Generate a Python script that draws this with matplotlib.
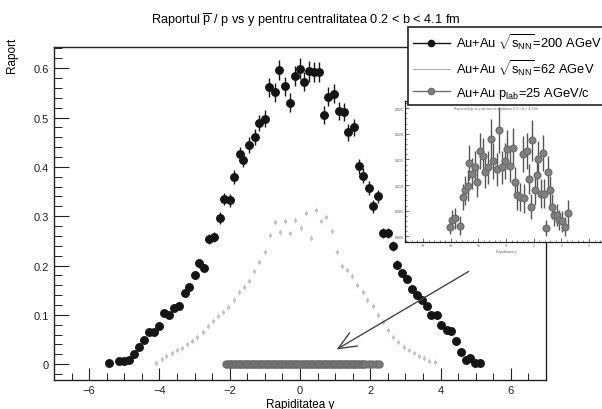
import matplotlib
matplotlib.use("Agg")
import matplotlib.pyplot as plt
from matplotlib.ticker import MultipleLocator
from matplotlib.lines import Line2D

plt.rcParams['font.family'] = ['Liberation Sans', 'DejaVu Sans']
plt.rcParams['mathtext.fontset'] = 'custom'
plt.rcParams['mathtext.rm'] = 'Liberation Sans'
plt.rcParams['mathtext.it'] = 'Liberation Sans'

# ---- data: Au+Au sqrt(sNN)=200 AGeV ----
x200 = [-5.43, -5.14, -5.00, -4.86, -4.72, -4.57, -4.43, -4.29, -4.15, -4.01,
        -3.86, -3.72, -3.58, -3.44, -3.28, -3.15, -2.99, -2.87, -2.72, -2.59,
        -2.44, -2.28, -2.16, -2.00, -1.88, -1.71, -1.61, -1.44, -1.29, -1.16,
        -1.00, -0.87, -0.72, -0.59, -0.44, -0.29, -0.15, -0.01, 0.12, 0.27,
        0.40, 0.54, 0.69, 0.81, 0.98, 1.10, 1.25, 1.37, 1.53, 1.68,
        1.80, 1.95, 2.07, 2.23, 2.35, 2.50, 2.64, 2.77, 2.91, 3.05,
        3.19, 3.33, 3.46, 3.60, 3.74, 3.90, 4.02, 4.19, 4.30, 4.45,
        4.58, 4.72, 4.85, 4.99, 5.13]
y200 = [0.003, 0.007, 0.007, 0.009, 0.020, 0.035, 0.050, 0.065, 0.065, 0.077,
        0.103, 0.099, 0.113, 0.117, 0.145, 0.157, 0.181, 0.205, 0.195, 0.254,
        0.258, 0.296, 0.335, 0.332, 0.379, 0.426, 0.414, 0.445, 0.461, 0.489,
        0.498, 0.561, 0.551, 0.596, 0.563, 0.530, 0.584, 0.599, 0.573, 0.594,
        0.593, 0.593, 0.505, 0.542, 0.548, 0.514, 0.511, 0.470, 0.480, 0.401,
        0.382, 0.358, 0.320, 0.340, 0.266, 0.266, 0.240, 0.202, 0.185, 0.173,
        0.153, 0.140, 0.130, 0.117, 0.099, 0.099, 0.080, 0.070, 0.067, 0.047,
        0.025, 0.009, 0.012, 0.002, 0.002]
e200 = [0.002, 0.002, 0.002, 0.002, 0.003, 0.003, 0.004, 0.004, 0.004, 0.005,
        0.006, 0.006, 0.006, 0.007, 0.007, 0.008, 0.008, 0.009, 0.009, 0.010,
        0.011, 0.012, 0.013, 0.013, 0.014, 0.015, 0.015, 0.016, 0.016, 0.017,
        0.017, 0.019, 0.019, 0.020, 0.020, 0.019, 0.020, 0.021, 0.020, 0.021,
        0.020, 0.020, 0.018, 0.019, 0.019, 0.018, 0.018, 0.017, 0.017, 0.015,
        0.015, 0.014, 0.013, 0.013, 0.011, 0.011, 0.010, 0.009, 0.009, 0.008,
        0.007, 0.007, 0.006, 0.006, 0.005, 0.005, 0.004, 0.004, 0.004, 0.003,
        0.003, 0.002, 0.002, 0.002, 0.002]

# ---- data: Au+Au sqrt(sNN)=62 AGeV ----
x62 = [-4.09, -3.94, -3.80, -3.65, -3.50, -3.36, -3.21, -3.06, -2.92, -2.77,
       -2.62, -2.48, -2.33, -2.18, -2.04, -1.89, -1.74, -1.60, -1.45, -1.30,
       -1.16, -1.01, -0.86, -0.72, -0.57, -0.42, -0.28, -0.13, 0.02, 0.16,
       0.31, 0.46, 0.60, 0.75, 0.90, 1.04, 1.19, 1.34, 1.48, 1.63,
       1.78, 1.92, 2.07, 2.22, 2.36, 2.51, 2.66, 2.80, 2.95, 3.10,
       3.24, 3.39, 3.54, 3.68, 3.83]
y62 = [0.002, 0.010, 0.017, 0.022, 0.028, 0.033, 0.040, 0.047, 0.055, 0.066,
       0.078, 0.088, 0.098, 0.106, 0.116, 0.130, 0.146, 0.156, 0.168, 0.188,
       0.208, 0.228, 0.262, 0.288, 0.268, 0.290, 0.265, 0.293, 0.276, 0.306,
       0.255, 0.312, 0.290, 0.298, 0.270, 0.228, 0.200, 0.190, 0.178, 0.160,
       0.146, 0.130, 0.118, 0.100, 0.085, 0.070, 0.055, 0.045, 0.035, 0.028,
       0.022, 0.017, 0.012, 0.007, 0.004]

# ---- data: Au+Au p_lab=25 AGeV/c, main panel (all ~0 on this scale) ----
x25_main = [-2.10, -2.05, -2.00, -1.95, -1.90, -1.85, -1.80, -1.75, -1.70, -1.65,
            -1.60, -1.55, -1.50, -1.45, -1.40, -1.35, -1.30, -1.25, -1.20, -1.15,
            -1.10, -1.05, -1.00, -0.95, -0.90, -0.85, -0.80, -0.75, -0.70, -0.65,
            -0.60, -0.55, -0.50, -0.45, -0.40, -0.35, -0.30, -0.25, -0.20, -0.15,
            -0.10, -0.05, 0.00, 0.05, 0.10, 0.15, 0.20, 0.25, 0.30, 0.35,
            0.40, 0.45, 0.50, 0.55, 0.60, 0.65, 0.70, 0.75, 0.80, 0.85,
            0.90, 0.95, 1.00, 1.05, 1.10, 1.15, 1.20, 1.25, 1.30, 1.35,
            1.40, 1.45, 1.50, 1.55, 1.60, 1.65, 1.70, 1.75, 1.80, 1.85,
            1.95, 2.05, 2.15, 2.25]
y25_main = [0.0] * len(x25_main)

# ---- data: Au+Au p_lab=25 AGeV/c, inset ----
x25 = [-2.02, -1.96, -1.84, -1.66, -1.57, -1.47, -1.36, -1.33, -1.24, -1.12,
       -1.06, -0.94, -0.84, -0.76, -0.64, -0.55, -0.46, -0.34, -0.24, -0.16,
       -0.04, 0.02, 0.14, 0.24, 0.33, 0.41, 0.51, 0.60, 0.65, 0.75,
       0.84, 0.89, 0.94, 1.05, 1.11, 1.17, 1.25, 1.33, 1.37, 1.43,
       1.53, 1.59, 1.65, 1.73, 1.83, 1.93, 2.01, 2.13, 2.25]
y25 = [0.0019, 0.0032, 0.0035, 0.0021, 0.0077, 0.0090, 0.0099, 0.0144, 0.0122, 0.0135,
       0.0106, 0.0167, 0.0157, 0.0125, 0.0135, 0.0189, 0.0147, 0.0131, 0.0208, 0.0135,
       0.0147, 0.0170, 0.0138, 0.0173, 0.0106, 0.0080, 0.0077, 0.0160, 0.0074, 0.0167,
       0.0112, 0.0058, 0.0187, 0.0090, 0.0119, 0.0151, 0.0083, 0.0163, 0.0083, 0.0016,
       0.0125, 0.0090, 0.0058, 0.0042, 0.0042, 0.0032, 0.0029, 0.0019, 0.0046]
e25 = [0.0015, 0.0020, 0.0020, 0.0018, 0.0025, 0.0028, 0.0030, 0.0035, 0.0030, 0.0032,
       0.0030, 0.0035, 0.0035, 0.0030, 0.0032, 0.0040, 0.0035, 0.0032, 0.0045, 0.0032,
       0.0035, 0.0038, 0.0032, 0.0038, 0.0030, 0.0028, 0.0028, 0.0035, 0.0028, 0.0035,
       0.0030, 0.0025, 0.0040, 0.0028, 0.0032, 0.0035, 0.0028, 0.0035, 0.0028, 0.0015,
       0.0032, 0.0028, 0.0025, 0.0022, 0.0022, 0.0020, 0.0020, 0.0018, 0.0025]

title = r'Raportul $\overline{\mathrm{p}}$ / p vs y pentru centralitatea 0.2 < b < 4.1 fm'
labels = [r'Au+Au $\sqrt{s_{NN}}$=200 AGeV', r'Au+Au $\sqrt{s_{NN}}$=62 AGeV',
          r'Au+Au p$_{lab}$=25 AGeV/c']

W, H = 602, 410
fig = plt.figure(figsize=(W / 100, H / 100), dpi=100)

def fx(px):
    return px / W

def fy(py):
    return 1 - py / H

ax = fig.add_axes([fx(54), fy(381), (546 - 54) / W, (381 - 48) / H])
ax.set_xlim(-7, 7)
ax.set_ylim(-0.032, 0.643)

ax.errorbar(x62, y62, yerr=0.006, fmt='o', ms=1.5, color='#c4c4c4',
            ecolor='#cccccc', elinewidth=0.7, capsize=0, zorder=2)
ax.plot(x25_main, y25_main, 'o', ms=5.0, color='#7c7c7c', mec='#6c6c6c', zorder=3)
ax.errorbar(x200, y200, yerr=e200, fmt='o', ms=5.4, color='#151515',
            ecolor='#151515', elinewidth=1.0, capsize=0, zorder=4)

ax.annotate('', xy=(0.97, 0.027), xytext=(4.87, 0.191),
            arrowprops=dict(arrowstyle='->,head_length=1.3,head_width=0.55',
                            color='#444444', lw=1.0), zorder=5)

ax.xaxis.set_major_locator(MultipleLocator(2))
ax.xaxis.set_minor_locator(MultipleLocator(0.5))
ax.yaxis.set_major_locator(MultipleLocator(0.1))
ax.yaxis.set_minor_locator(MultipleLocator(0.02))
ax.tick_params(which='both', direction='in', top=False, right=False,
               labelsize=8, colors='#222222')
ax.tick_params(axis='y', which='major', length=11, width=0.8)
ax.tick_params(axis='y', which='minor', length=6, width=0.7)
ax.tick_params(axis='x', which='major', length=9, width=0.8)
ax.tick_params(axis='x', which='minor', length=5, width=0.7)
ax.set_yticks([0, 0.1, 0.2, 0.3, 0.4, 0.5, 0.6])
ax.set_yticklabels(['0', '0.1', '0.2', '0.3', '0.4', '0.5', '0.6'])
for s in ax.spines.values():
    s.set_linewidth(1.0)
    s.set_color('#222222')

ax.set_xlabel('Rapiditatea y', fontsize=8.5, labelpad=2)
fig.text(fx(12), fy(38), 'Raport', rotation=90, fontsize=8.5, ha='center', va='top')
fig.text(fx(306), fy(20), title, fontsize=9.2, ha='center', va='center')

# ---- inset ----
axi = fig.add_axes([fx(405), fy(243), (607 - 405) / W, (243 - 102) / H])
axi.set_xlim(-3.65, 3.65)
axi.set_ylim(-0.0011, 0.0264)
axi.errorbar(x25, y25, yerr=e25, fmt='o', ms=4.8, color='#828282', mec='#6e6e6e',
             ecolor='#555555', elinewidth=1.0, capsize=0)
axi.xaxis.set_major_locator(MultipleLocator(1))
axi.xaxis.set_minor_locator(MultipleLocator(0.2))
axi.yaxis.set_major_locator(MultipleLocator(0.005))
axi.yaxis.set_minor_locator(MultipleLocator(0.001))
axi.tick_params(which='both', direction='in', top=False, right=False,
                labelsize=2.5, colors='#555555', pad=1)
axi.tick_params(which='major', length=3, width=0.6)
axi.tick_params(which='minor', length=1.5, width=0.5)
for s in axi.spines.values():
    s.set_linewidth(0.9)
    s.set_color('#222222')
axi.text(0.45, 0.95, 'Raportul p/p vs y pentru centralitatea 0.2 < b < 4.1 fm',
         transform=axi.transAxes, fontsize=2.5, color='#666666', ha='center', va='center')
axi.set_xlabel('Rapiditatea y', fontsize=2.5, color='#666666', labelpad=1)

# ---- legend ----
handles = [Line2D([], [], color='#151515', lw=1.0, marker='o', ms=4.5),
           Line2D([], [], color='#b0b0b0', lw=0.8),
           Line2D([], [], color='#6e6e6e', lw=1.0, marker='o', ms=4.5, mfc='#7c7c7c')]
leg = fig.legend(handles, labels, loc='upper left',
                 bbox_to_anchor=(fx(408), fy(28)), bbox_transform=fig.transFigure,
                 fontsize=9.3, frameon=True, fancybox=False, framealpha=1,
                 edgecolor='#222222', borderpad=0.35, labelspacing=0.5,
                 handlelength=2.9, handletextpad=0.45, borderaxespad=0)
leg.get_frame().set_linewidth(1.2)
leg.set_zorder(10)

fig.savefig('out.png', dpi=100)
